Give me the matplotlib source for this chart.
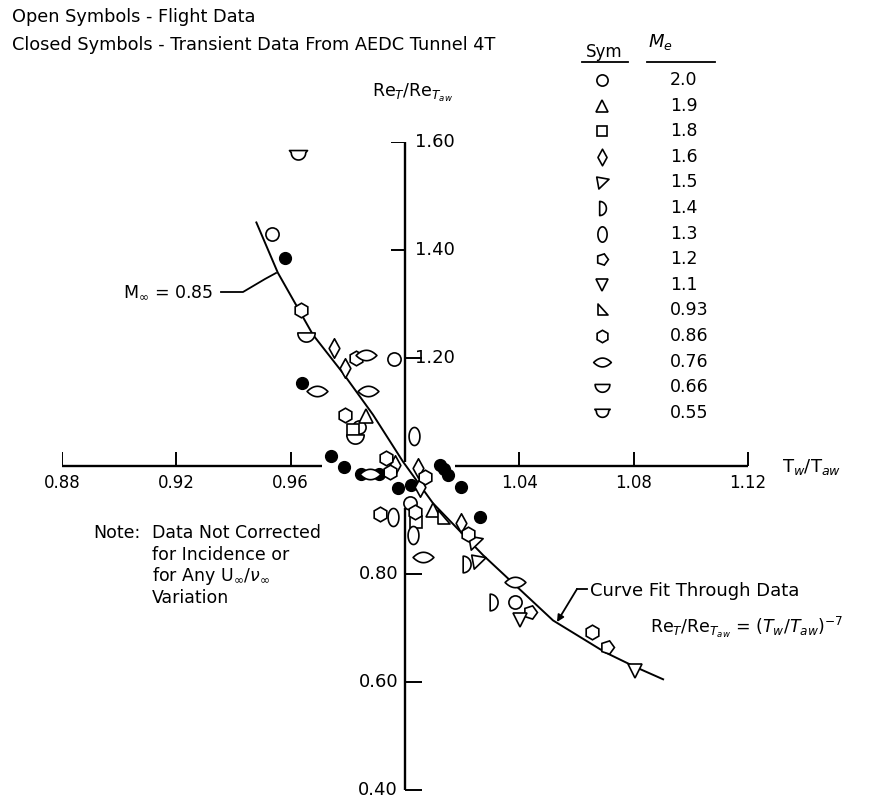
import matplotlib
matplotlib.use('Agg')
import matplotlib.pyplot as plt
import numpy as np
from matplotlib.path import Path
from matplotlib.markers import TICKUP, TICKLEFT, TICKRIGHT

plt.rcParams['font.family'] = ['DejaVu Sans']
plt.rcParams['mathtext.fontset'] = 'dejavusans'

# Mach numbers at the boundary-layer edge, one open symbol each
mach_values = ['2.0', '1.9', '1.8', '1.6', '1.5', '1.4', '1.3',
               '1.2', '1.1', '0.93', '0.86', '0.76', '0.66', '0.55']

# flight data: Tw/Taw, ReT/ReTaw, Me
flight_tw = [0.9625, 0.9536, 0.9635, 0.9655, 0.9750, 0.9830, 0.9865, 0.9789,
             0.9960, 0.9693, 0.9872, 0.9789, 0.9865, 0.9818, 0.9840, 0.9824,
             1.0030, 0.9878, 0.9935, 0.9964, 0.9946, 1.0045, 1.0069, 1.0051,
             0.9911, 0.9958, 1.0016, 1.0034, 1.0040, 1.0098, 1.0133, 1.0197,
             1.0220, 1.0244, 1.0028, 1.0063, 1.0215, 1.0256, 1.0384, 1.0308,
             1.0384, 1.0437, 1.0653, 1.0705, 1.0805, 1.0403]
flight_re = [1.576, 1.429, 1.288, 1.241, 1.219, 1.200, 1.206, 1.181,
             1.198, 1.139, 1.138, 1.095, 1.093, 1.067, 1.073, 1.051,
             1.056, 0.985, 1.014, 1.002, 0.989, 0.996, 0.980, 0.962,
             0.912, 0.906, 0.931, 0.915, 0.897, 0.918, 0.903, 0.894,
             0.875, 0.859, 0.872, 0.832, 0.819, 0.825, 0.785, 0.748,
             0.748, 0.729, 0.692, 0.664, 0.621, 0.714]
flight_me = ['0.55', '2.0', '0.86', '0.66', '1.6', '0.86', '0.76', '1.6',
             '2.0', '0.76', '0.76', '0.86', '1.9', '1.8', '2.0', '0.66',
             '1.3', '0.76', '0.86', '1.6', '0.86', '1.6', '0.86', '1.6',
             '0.86', '1.3', '2.0', '0.86', '1.8', '1.9', '0.93', '1.6',
             '0.86', '1.5', '1.3', '0.76', '1.4', '1.5', '0.76', '1.4',
             '2.0', '1.2', '0.86', '1.2', '1.1', '1.1']

# transient data, AEDC tunnel 4T
tunnel_tw = [0.9579, 0.9640, 0.9740, 0.9786, 0.9845, 0.9910, 0.9975, 1.0022,
             1.0121, 1.0135, 1.0150, 1.0197, 1.0261]
tunnel_re = [1.386, 1.154, 1.019, 0.999, 0.985, 0.985, 0.959, 0.965,
             1.002, 0.995, 0.983, 0.962, 0.906]

# faired curve through the data
fit_tw = [0.948, 0.9555, 0.9678, 0.9783, 0.9888, 0.9993, 1.0098, 1.0273,
          1.0518, 1.0700, 1.0805, 1.0903]
fit_re = [1.451, 1.358, 1.243, 1.172, 1.095, 1.008, 0.931, 0.835,
          0.714, 0.655, 0.628, 0.605]

x_ticks = [0.88, 0.92, 0.96, 1.04, 1.08, 1.12]
y_ticks = [1.60, 1.40, 1.20, 0.80, 0.60, 0.40]
y_tick_side = ['left', 'left', 'right', 'right', 'right', 'right']
y_label_side = ['right', 'right', 'right', 'left', 'left', 'left']


def poly(v):
    v = np.asarray(v, dtype=float)
    return Path(np.vstack([v, v[:1]]), closed=True)


t = np.linspace(0, 2 * np.pi, 40, endpoint=False)
half = np.linspace(-np.pi / 2, np.pi / 2, 20)
low = np.linspace(np.pi, 2 * np.pi, 20)
xs = np.linspace(-1, 1, 15)

# (marker, size in points)
shapes = {
    '2.0': ('o', 9.5),
    '1.9': ('^', 9.5),
    '1.8': ('s', 8.5),
    '1.6': (poly([(0, 1), (0.55, 0), (0, -1), (-0.55, 0)]), 14),
    '1.5': (poly([(-0.8, 0.75), (0.9, 0.45), (-0.5, -0.9)]), 11),
    '1.4': (poly(np.column_stack([0.95 * np.cos(half) - 0.4, np.sin(half)])), 12),
    '1.3': (poly(np.column_stack([0.6 * np.cos(t), np.sin(t)])), 13),
    '1.2': ((5, 0, -90), 10),
    '1.1': ('v', 9.5),
    '0.93': (poly([(-0.6, 1), (-0.6, -0.8), (0.9, -0.8)]), 11),
    '0.86': ('h', 10.5),
    '0.76': (poly(np.vstack([np.column_stack([xs, 0.5 * (1 - xs ** 2)]),
                             np.column_stack([xs[::-1], -0.5 * (1 - xs[::-1] ** 2)])])), 15),
    '0.66': (poly(np.column_stack([-0.85 * np.cos(low[::-1]), 0.35 + 0.9 * np.sin(low)])), 12.5),
    '0.55': (poly(np.vstack([[(-1, 0.55)],
                             np.column_stack([0.8 * np.cos(low), 0.3 + 0.8 * np.sin(low)]),
                             [(1, 0.55)]])), 13),
}

W, H = 874, 805
fig = plt.figure(figsize=(W / 100, H / 100), dpi=100)

# pixel-space layer for headings, notes and the symbol table
ov = fig.add_axes([0, 0, 1, 1])
ov.set_xlim(0, W)
ov.set_ylim(H, 0)
ov.axis('off')

ax = fig.add_axes([62 / W, 15 / H, 686 / W, 648 / H])
ax.set_xlim(0.88, 1.12)
ax.set_ylim(0.40, 1.60)
ax.axis('off')
ax.patch.set_alpha(0)

# axes drawn through (1.0, 1.0), left open where the points crowd
axk = dict(color='black', lw=1.7, solid_capstyle='butt', zorder=1)
ax.plot([0.88, 0.971], [1.0, 1.0], **axk)
ax.plot([1.0175, 1.12], [1.0, 1.0], **axk)
ax.plot([1.0, 1.0], [1.60, 1.007], **axk)
ax.plot([1.0, 1.0], [0.922, 0.40], **axk)

ax.plot(x_ticks, [1.0] * len(x_ticks), ls='none', marker=TICKUP, ms=10,
        mew=1.4, color='black')
for xt in x_ticks:
    ax.annotate(f'{xt:.2f}', (xt, 1.0), xytext=(0, -17), textcoords='offset pixels',
                ha='center', va='center', fontsize=12)

for yt, ts, ls in zip(y_ticks, y_tick_side, y_label_side):
    mk = TICKLEFT if ts == 'left' else TICKRIGHT
    ax.plot([1.0], [yt], marker=mk, ms=10 if ts == 'left' else 12, mew=1.4, color='black')
    if ls == 'right':
        ax.annotate(f'{yt:.2f}', (1.0, yt), xytext=(10, 0), textcoords='offset pixels',
                    ha='left', va='center', fontsize=13)
    else:
        ax.annotate(f'{yt:.2f}', (1.0, yt), xytext=(-7, 0), textcoords='offset pixels',
                    ha='right', va='center', fontsize=13)

ax.plot(fit_tw, fit_re, color='black', lw=1.4, zorder=2)

ax.plot(tunnel_tw, tunnel_re, ls='none', marker='o', ms=8.5, mfc='black',
        mec='black', zorder=3)

for m in mach_values:
    mk, sz = shapes[m]
    xs_m = [x for x, me in zip(flight_tw, flight_me) if me == m]
    ys_m = [y for y, me in zip(flight_re, flight_me) if me == m]
    ax.plot(xs_m, ys_m, ls='none', marker=mk, ms=sz, mfc='white',
            mec='black', mew=1.2, zorder=4)

# symbol table
ov.text(604, 52, 'Sym', ha='center', va='center', fontsize=12)
ov.plot([582, 628], [62, 62], color='black', lw=1.3)
ov.text(660, 42, r'$M_e$', ha='center', va='center', fontsize=13)
ov.plot([647, 715], [62, 62], color='black', lw=1.3)
for i, m in enumerate(mach_values):
    mk, sz = shapes[m]
    yy = 80 + i * 25.6
    ov.plot(602, yy, marker=mk, ms=sz * 0.85, mfc='white', mec='black', mew=1.2)
    ov.text(670, yy, m, ha='left', va='center', fontsize=12.5)

ov.text(12, 17, 'Open Symbols - Flight Data', ha='left', va='center', fontsize=12.8)
ov.text(12, 45, 'Closed Symbols - Transient Data From AEDC Tunnel 4T',
        ha='left', va='center', fontsize=12.8)

ov.text(372, 93, r'Re$_T$/Re$_{T_{aw}}$', ha='left', va='center', fontsize=12.5)
ov.text(782, 467, r'T$_w$/T$_{aw}$', ha='left', va='center', fontsize=13)

ov.text(213, 292, r'M$_\infty$ = 0.85', ha='right', va='center', fontsize=12.5)
ov.plot([221, 243, 265, 276], [292, 292, 279, 273], color='black', lw=1.3)

ov.text(93, 533, 'Note:', ha='left', va='center', fontsize=12.5)
for k, line in enumerate(['Data Not Corrected', 'for Incidence or',
                          r'for Any U$_\infty$/$\nu_\infty$', 'Variation']):
    ov.text(152, 533 + k * 21.7, line, ha='left', va='center', fontsize=12.5)

ov.text(590, 591, 'Curve Fit Through Data', ha='left', va='center', fontsize=13)
ov.annotate('', xy=(557, 622), xytext=(577, 589),
            arrowprops=dict(arrowstyle='-|>', color='black', lw=1.3,
                            mutation_scale=10, shrinkA=0, shrinkB=0))
ov.plot([577, 587], [589, 589], color='black', lw=1.3)
ov.text(650, 627, r'Re$_T$/Re$_{T_{aw}}$ = $\left(T_w/T_{aw}\right)^{-7}$',
        ha='left', va='center', fontsize=12.5)

fig.savefig('out.png', dpi=100)
